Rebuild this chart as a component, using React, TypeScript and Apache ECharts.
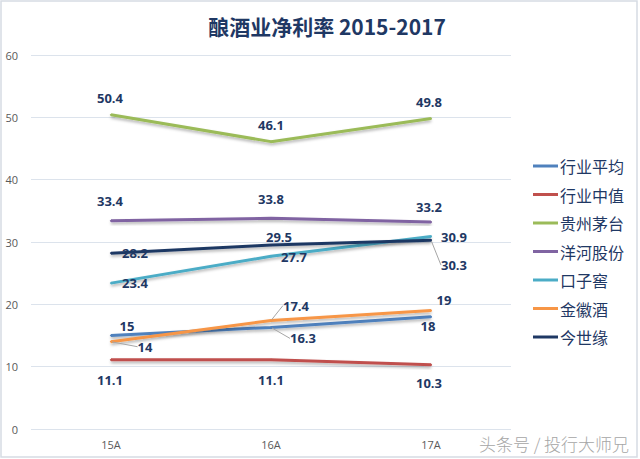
import React, { useEffect, useRef } from "react";
import * as echarts from "echarts";

const categories = ["15A", "16A", "17A"];
const seriesNames = ["行业平均", "行业中值", "贵州茅台", "洋河股份", "口子窖", "金徽酒", "今世缘"];
const avgValues = [15, 16.3, 18];
const medianValues = [11.1, 11.1, 10.3];
const moutaiValues = [50.4, 46.1, 49.8];
const yangheValues = [33.4, 33.8, 33.2];
const kouziValues = [23.4, 27.7, 30.9];
const jinhuiValues = [14, 17.4, 19];
const jinshiyuanValues = [28.2, 29.5, 30.3];
const yTicks = [0, 10, 20, 30, 40, 50, 60];

const seriesValues = [avgValues, medianValues, moutaiValues, yangheValues, kouziValues, jinhuiValues, jinshiyuanValues];
const colors = ["#4F81BD", "#C0504D", "#9BBB59", "#8064A2", "#4BACC6", "#F79646", "#1F3864"];

// label offsets (dx, dy) from each point, and whether a leader line is drawn
const labelOffsets: number[][][] = [
  [[16, -10], [32, 11], [-3, 9]],
  [[-1, 20], [0, 20], [-2, 18]],
  [[-1, -17], [0, -17], [-2, -17]],
  [[-1, -20], [0, -19], [-2, -15]],
  [[24, 0], [23, 1], [23, 1]],
  [[34, 5], [25, -15], [13, -11]],
  [[24, 0], [8, -8], [23, 25]],
];
const leaderLines: boolean[][] = [
  [false, true, false],
  [false, false, false],
  [false, false, false],
  [false, false, false],
  [false, false, false],
  [true, true, false],
  [false, false, true],
];

export default function App() {
  const ref = useRef<HTMLDivElement>(null);
  useEffect(() => {
    if (!ref.current) return;
    const chart = echarts.init(ref.current, null, { renderer: "svg" });
    const series = seriesNames.map((name, si) => ({
      name,
      type: "line",
      data: seriesValues[si].map((v, di) => ({
        value: v,
        labelLine: { show: leaderLines[si][di] },
      })),
      symbol: "circle",
      symbolSize: 2,
      showSymbol: true,
      itemStyle: { color: colors[si] },
      lineStyle: {
        color: colors[si],
        width: 3,
        shadowColor: "rgba(0,0,0,0.3)",
        shadowBlur: 3,
        shadowOffsetY: 2,
      },
      label: {
        show: true,
        position: "inside",
        color: "#1F3864",
        fontSize: 13,
        fontWeight: "bold",
        fontFamily: "Open Sans",
      },
      labelLine: {
        show: false,
        lineStyle: { color: "#A6A6A6", width: 1 },
      },
      labelLayout: (params: any) => {
        const o = labelOffsets[si][params.dataIndex];
        return { dx: o[0], dy: o[1] };
      },
      z: 2 + si,
    }));
    chart.setOption({
      animation: false,
      backgroundColor: "#ffffff",
      title: {
        text: "酿酒业净利率 2015-2017",
        left: 322,
        top: 10,
        textAlign: "center",
        textStyle: {
          color: "#1F3864",
          fontSize: 21,
          fontWeight: "bold",
          fontFamily: "Noto Sans CJK SC",
        },
      },
      grid: { left: 31, right: 129, top: 55, bottom: 30, containLabel: false },
      legend: {
        orient: "vertical",
        left: 528,
        top: 153,
        itemWidth: 25,
        itemHeight: 3,
        itemGap: 12.5,
        icon: "rect",
        data: seriesNames,
        textStyle: {
          color: "#1F3864",
          fontSize: 16,
          fontFamily: "Noto Sans CJK SC",
          padding: [0, 0, 0, -3],
        },
      },
      xAxis: {
        type: "category",
        data: categories,
        boundaryGap: true,
        axisLine: { show: false },
        axisTick: { show: false },
        axisLabel: { color: "#595959", fontSize: 11, fontFamily: "Open Sans", margin: 10 },
      },
      yAxis: {
        type: "value",
        min: yTicks[0],
        max: yTicks[yTicks.length - 1],
        interval: 10,
        axisLine: { show: false },
        axisTick: { show: false },
        axisLabel: { color: "#595959", fontSize: 11, fontFamily: "Open Sans", margin: 13 },
        splitLine: { lineStyle: { color: "#DCE3EC", width: 1 } },
      },
      graphic: [
        {
          type: "rect",
          shape: { x: 1, y: 1, width: 636, height: 456 },
          style: { fill: "none", stroke: "#D6DCE4", lineWidth: 1.5 },
          silent: true,
        },
        {
          type: "text",
          x: 554,
          y: 443,
          style: {
            text: "头条号 / 投行大师兄",
            fill: "#A6A6A6",
            fontSize: 17,
            fontFamily: "Noto Sans CJK SC",
            fontWeight: 300,
            align: "center",
            verticalAlign: "middle",
          },
          silent: true,
        },
      ],
      series,
    });
    return () => chart.dispose();
  }, []);
  return <div ref={ref} style={{ width: 640, height: 459, position: "absolute", left: 0, top: 0 }} />;
}
